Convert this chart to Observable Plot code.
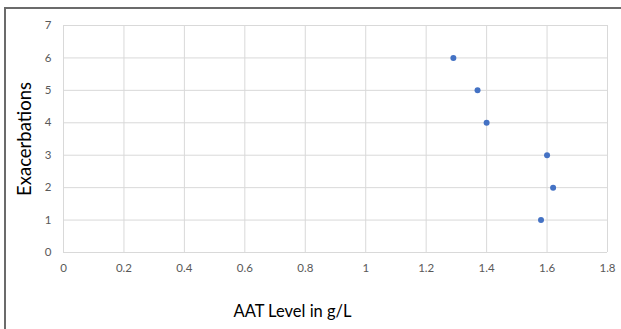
<!DOCTYPE html>
<html>
<head>
<meta charset="utf-8">
<script src="https://cdn.jsdelivr.net/npm/d3@7"></script>
<script src="https://cdn.jsdelivr.net/npm/@observablehq/plot@0.6"></script>
<style>
  html, body { margin: 0; padding: 0; background: #fff; }
  #wrap { position: relative; width: 621px; height: 329px; overflow: hidden; }
  #edge { position: absolute; left: 4px; top: 7px; width: 700px; height: 400px;
          border-top: 2px solid #6b6b6b; border-left: 2px solid #6b6b6b; pointer-events: none; }
</style>
</head>
<body>
<div id="wrap"><div id="edge"></div></div>
<script>
// Data
const aatLevel = [1.29, 1.37, 1.40, 1.60, 1.62, 1.58];
const exacerbations = [6, 5, 4, 3, 2, 1];
const xTicks = [0, 0.2, 0.4, 0.6, 0.8, 1, 1.2, 1.4, 1.6, 1.8];
const yTicks = [0, 1, 2, 3, 4, 5, 6, 7];
const xTitle = "AAT Level in g/L";
const yTitle = "Exacerbations";

const data = aatLevel.map((x, i) => ({x, y: exacerbations[i]}));

const chart = Plot.plot({
  width: 621,
  height: 329,
  marginLeft: 63,
  marginRight: 14,
  marginTop: 25,
  marginBottom: 77,
  style: {fontFamily: "Lato, 'Open Sans', sans-serif", background: "transparent"},
  x: {domain: [0, 1.8]},
  y: {domain: [0, 7]},
  marks: [
    Plot.gridX(xTicks, {stroke: "#d9d9d9", strokeOpacity: 1, strokeWidth: 1}),
    Plot.gridY(yTicks, {stroke: "#d9d9d9", strokeOpacity: 1, strokeWidth: 1}),
    Plot.axisX(xTicks, {tickSize: 0, tickPadding: 11, tickFormat: d => String(d), label: null, fill: "#595959", fontSize: 11.5}),
    Plot.axisY(yTicks, {tickSize: 0, tickPadding: 12, tickFormat: d => String(d), label: null, fill: "#595959", fontSize: 11.5}),
    Plot.dot(data, {x: "x", y: "y", r: 3, fill: "#4472C4", stroke: null}),
    Plot.text([yTitle], {frameAnchor: "left", textAnchor: "middle", lineAnchor: "middle", rotate: -90, dx: -38, fontSize: 18.5, fill: "#000", text: d => d}),
    Plot.text([xTitle], {frameAnchor: "bottom", textAnchor: "middle", lineAnchor: "middle", dx: -43, dy: 59, fontSize: 16.5, fill: "#000", text: d => d})
  ]
});
document.getElementById("wrap").prepend(chart);
</script>
</body>
</html>
